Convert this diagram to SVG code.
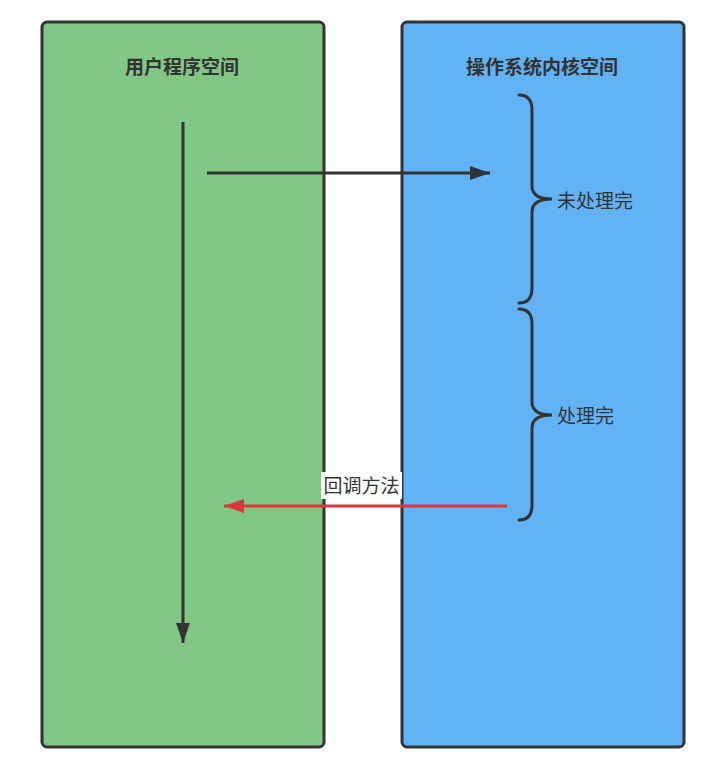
<svg xmlns="http://www.w3.org/2000/svg" width="715" height="770" viewBox="0 0 715 770">
<style>
.box{stroke:#333;stroke-width:3}
.title{font-family:"Noto Sans CJK SC","Liberation Sans",sans-serif;font-size:19px;font-weight:bold;fill:#333;text-anchor:middle}
.lbl{font-family:"Noto Sans CJK SC","Liberation Sans",sans-serif;font-size:19px;fill:#333}
.brace{fill:none;stroke:#333;stroke-width:3;stroke-linecap:round}
</style>
<defs>
<marker id="ah" markerWidth="20" markerHeight="14" refX="20" refY="7" orient="auto" markerUnits="userSpaceOnUse"><path d="M0,0 L20,7 L0,14 Z" fill="#333"/></marker>
<marker id="ahr" markerWidth="20" markerHeight="14" refX="20" refY="7" orient="auto" markerUnits="userSpaceOnUse"><path d="M0,0 L20,7 L0,14 Z" fill="#d9363e"/></marker>
</defs>
<g id="user">
<rect class="box" x="42" y="22" width="282" height="725" rx="5" fill="#80c783"/>
<text class="title" x="182" y="74">用户程序空间</text>
</g>
<g id="kernel">
<rect class="box" x="402" y="22" width="282" height="725" rx="5" fill="#62b3f5"/>
<text class="title" x="542" y="74">操作系统内核空间</text>
</g>
<g id="brace1">
<path class="brace" d="M519,95 Q532,95 532,110 L532,186 Q532,199 552,199 Q532,199 532,212 L532,288 Q532,303 519,303"/>
<text class="lbl" x="557" y="208">未处理完</text>
</g>
<g id="brace2">
<path class="brace" d="M519,309 Q532,309 532,324 L532,402 Q532,415 552,415 Q532,415 532,428 L532,505 Q532,520 519,520"/>
<text class="lbl" x="557" y="423">处理完</text>
</g>
<g id="connectors">
<line x1="183" y1="122" x2="183" y2="643" stroke="#333" stroke-width="3" marker-end="url(#ah)"/>
<line x1="207" y1="173" x2="490" y2="173" stroke="#333" stroke-width="3" marker-end="url(#ah)"/>
<line x1="507" y1="506" x2="224" y2="506" stroke="#d9363e" stroke-width="3" marker-end="url(#ahr)"/>
<rect x="321" y="472" width="81" height="27" fill="#fff"/>
<text class="lbl" x="361.5" y="493" text-anchor="middle">回调方法</text>
</g>
</svg>
